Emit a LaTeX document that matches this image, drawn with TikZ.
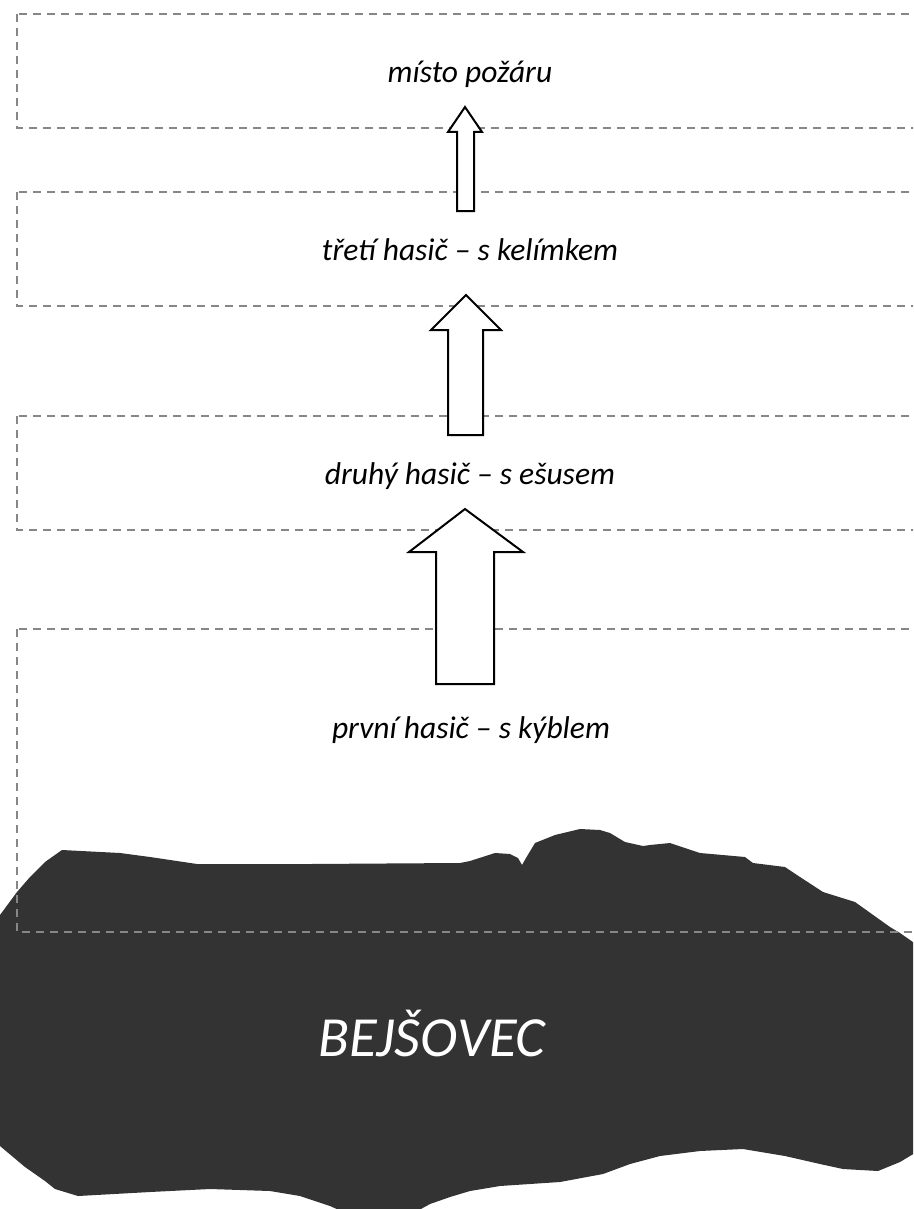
\documentclass[tikz,border=0pt]{standalone}
\usepackage{fontspec}
\setmainfont{Carlito}
\definecolor{blobgray}{HTML}{333333}
\definecolor{dashgray}{HTML}{878787}

\begin{document}
\begin{tikzpicture}[x=1pt,y=-1pt]
    \tikzstyle{dashbox}=[draw=dashgray,line width=1.5pt,dash pattern=on 8pt off 6pt]
    \tikzstyle{blockarrow}=[draw=black,fill=white,line width=2pt,line join=miter]
    \tikzstyle{level}=[anchor=base,inner sep=0pt,font=\fontsize{31.5}{38}\selectfont\itshape]
    \useasboundingbox (0,0) rectangle (913,1209);
    \clip (0,0) rectangle (913,1209);
    \fill[blobgray] (0,915) -- (17,892) -- (30,877) -- (45,862) -- (62,850)
      -- (120,853) -- (150,857) -- (197,864) -- (310,864) -- (460,863)
      -- (470,861) -- (495,853) -- (510,854) -- (518,858) -- (522,865)
      -- (526,858) -- (535,843) -- (555,835) -- (580,829) -- (600,830)
      -- (610,833) -- (625,842) -- (643,846) -- (650,845) -- (670,843)
      -- (700,853) -- (745,857) -- (753,863) -- (785,867) -- (800,877)
      -- (823,892) -- (855,902) -- (890,927) -- (900,933) -- (920,947)
      -- (920,1150) -- (900,1162) -- (878,1171) -- (843,1169) -- (820,1164)
      -- (785,1156) -- (743,1149) -- (700,1151) -- (660,1156) -- (630,1164)
      -- (603,1174) -- (560,1182) -- (500,1186) -- (470,1191) -- (450,1197)
      -- (430,1204) -- (410,1215) -- (350,1215) -- (330,1206) -- (300,1196)
      -- (270,1191) -- (210,1189) -- (150,1192) -- (78,1196) -- (55,1189)
      -- (45,1181) -- (25,1167) -- (0,1146) -- cycle;
    \draw[dashbox] (17,14) rectangle (930,128);
    \draw[dashbox] (17,192) rectangle (930,306);
    \draw[dashbox] (17,416) rectangle (930,530);
    \draw[dashbox] (17,629) rectangle (930,932);
    \draw[blockarrow] (465,107) -- (482,132) -- (474,132) -- (474,211)
      -- (457,211) -- (457,132) -- (448,132) -- cycle;
    \draw[blockarrow] (466,295) -- (501,330) -- (483,330) -- (483,435)
      -- (448,435) -- (448,330) -- (431,330) -- cycle;
    \draw[blockarrow] (465,509) -- (523,552) -- (494,552) -- (494,684)
      -- (436,684) -- (436,552) -- (409,552) -- cycle;
    \node[level] (misto) at (470,83) {místo požáru};
    \node[level] (treti) at (470,260) {třetí hasič – s kelímkem};
    \node[level] (druhy) at (470,484) {druhý hasič – s ešusem};
    \node[level] (prvni) at (471,738) {první hasič – s kýblem};
    \node[anchor=base,inner sep=0pt,text=white,font=\fontsize{56.7}{68}\selectfont\itshape] (bejsovec) at (432,1056) {BEJŠOVEC};
\end{tikzpicture}
\end{document}
